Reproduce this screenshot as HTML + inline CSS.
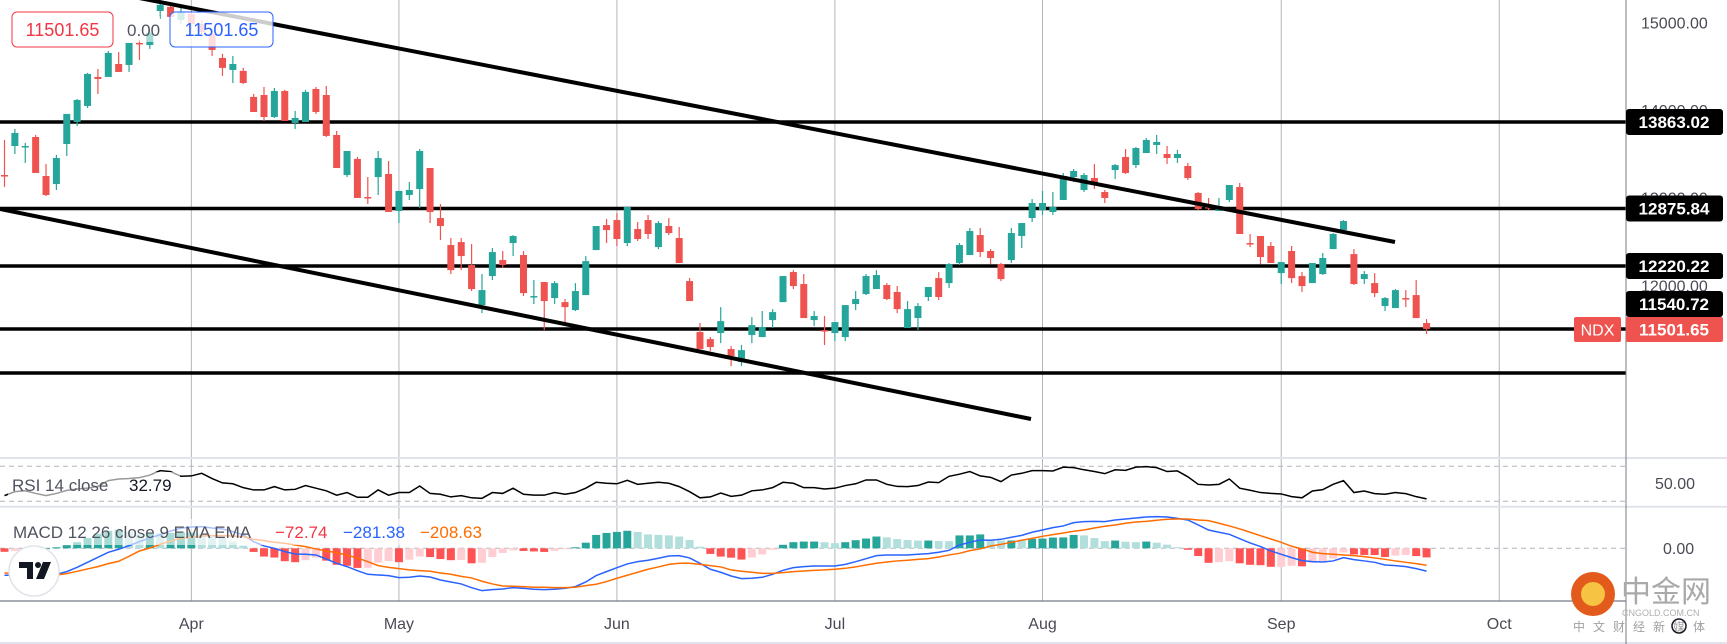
<!DOCTYPE html>
<html><head><meta charset="utf-8"><style>
html,body{margin:0;padding:0;background:#fff;}
svg{display:block;font-family:"Liberation Sans","Noto Sans CJK SC",sans-serif;}
</style></head><body>
<svg id="chart" width="1727" height="644" viewBox="0 0 1727 644" xmlns="http://www.w3.org/2000/svg">
<rect x="0" y="0" width="1727" height="644" fill="#fff"/>
<g id="grid"></g>
<g id="levels"></g>
<g id="candles"></g>
<g id="trend"></g>
<g id="rsi"></g>
<g id="macd"></g>
<g id="axes"></g>
</svg>
<script>
const months = ["Apr","May","Jun","Jul","Aug","Sep","Oct"];
const monthIdx = [18,38,59,80,100,123,144];
const opens = [13258,13589,13578,13692,13247,13155,13612,13863,14046,14377,14377,14525,14514,14765,14742,15130,15176,15028,15096,14982,14868,14594,14457,14446,14149,14171,13920,14217,13852,13863,14240,14171,13715,13258,13441,13007,13235,13270,12847,13030,13098,13338,12767,12459,12493,12231,11774,12105,12288,12482,12345,11866,12037,11854,11808,11717,11888,12402,12687,12744,12482,12642,12744,12436,12676,12539,12048,11466,11386,11455,11272,11124,11432,11409,11603,11808,12151,12014,11603,11489,11455,11409,11786,11900,11957,12003,11923,11512,11626,11866,12082,12025,12254,12345,12573,12391,12242,12288,12562,12767,12859,12836,12973,13235,13087,13224,13064,13315,13464,13372,13509,13601,13498,13452,13361,13053,12893,12847,12973,13121,12482,12562,12448,12139,12391,12105,12025,12128,12413,12630,12356,12071,12025,11763,11740,11854,11888,11569];
const closes = [13247,13738,13589,13281,13030,13452,13955,14114,14411,14354,14651,14434,14765,14754,14879,15199,15062,15119,14982,14891,14685,14480,14525,14308,13977,13920,14217,13875,13909,14206,13977,13704,13338,13532,12996,12996,13452,12836,13076,13087,13532,12836,12676,12173,12333,11957,11945,12379,12231,12562,11911,11877,11820,12025,11751,11934,12276,12676,12630,12528,12893,12528,12585,12710,12596,12254,11820,11272,11295,11591,11192,11260,11546,11523,11694,12105,11991,11626,11649,11480,11580,11774,11843,12105,12117,11843,11728,11728,11763,11980,11866,12242,12459,12619,12379,12311,12071,12596,12710,12939,12939,12893,13247,13304,13258,13155,12996,13372,13281,13566,13658,13635,13452,13498,13224,12870,12881,12904,13144,12585,12471,12322,12254,12265,12082,11991,12254,12311,12585,12733,12014,12128,11911,11854,11945,11843,11626,11501.65];
const highs = [13658,13783,13624,13715,13384,13487,13955,14126,14423,14468,14674,14662,14765,14799,14914,15256,15199,15165,15130,15028,14914,14640,14617,14480,14183,14263,14251,14229,13989,14229,14263,14274,13761,13532,13464,13235,13532,13418,13076,13178,13555,13338,12927,12539,12539,12471,12128,12425,12391,12573,12391,12060,12037,12048,11843,12025,12333,12676,12756,12824,12893,12722,12802,12733,12767,12665,12082,11569,11409,11751,11306,11318,11637,11706,11728,12105,12173,12128,11706,11649,11580,11774,11934,12128,12173,12025,11991,11820,11797,11980,12151,12254,12482,12653,12653,12413,12254,12653,12710,12984,13076,13064,13281,13327,13281,13384,13087,13384,13555,13578,13681,13715,13589,13544,13395,13064,12996,12996,13144,13167,12585,12562,12493,12265,12448,12151,12254,12368,12596,12744,12413,12162,12139,11866,11957,11945,12060,11614];
const lows = [13121,13498,13395,13281,13018,13087,13475,13818,14023,14183,14377,14434,14434,14571,14697,15039,15062,14982,14914,14868,14617,14388,14308,14297,13977,13875,13909,13875,13783,13863,13955,13692,13338,13235,12996,12927,13030,12836,12710,12973,12881,12710,12516,12128,12173,11934,11683,12060,12197,12333,11877,11786,11489,11786,11569,11706,11888,12402,12482,12448,12448,12505,12528,12413,12573,12254,11820,11272,11249,11340,11078,11078,11340,11409,11512,11808,11957,11626,11534,11318,11363,11363,11717,11888,11957,11831,11683,11512,11489,11820,11831,11968,12231,12345,12322,12242,12048,12254,12425,12722,12802,12802,12973,13178,13064,13098,12939,13212,13270,13338,13509,13498,13384,13395,13201,12859,12859,12847,12950,12585,12436,12242,12254,12014,12025,11923,12025,12117,12413,12630,12003,12014,11866,11706,11740,11751,11626,11443];
const rsiVals = [36.5,41,42,39,36.5,39,42.5,44,45,47,53.6,55.5,56,57,60,65,64,58.6,59,62,56,51,50,45.6,43,43,46.8,43,43.7,48,45,42,37,40,34.6,34.6,43,37,40,40,47.5,39,38,35,36.5,34,33.4,40,39,45,38,37,37,40,38,40,45,51.7,50.6,50,54,49.4,50.6,51.7,50.6,46.8,41,34,35,39.5,35.7,37,42,43,45.6,51.7,50.6,45.6,45.6,44,45,48,50,54.4,54.4,49.4,47,46.8,48,52,51.3,58.6,61,64,59,57.4,52.5,60,62,65,65,64.7,69,68.5,66,64,61.6,66,65.4,69,69.6,68.5,64,64.7,58,49.4,48.7,49.4,55.5,45,42.6,40,39,38.4,35.3,34,41.8,43.3,49.4,53.6,40,41.8,38.8,38,40,38.8,35.3,32.79];
const macdVals = [-333,-333,-321,-325,-329,-321,-288,-235,-173,-111,-49,-12,33,82,128,169,214,247,263,267,251,239,206,165,82,29,0,-41,-70,-74,-82,-132,-185,-226,-276,-321,-329,-337,-362,-358,-342,-354,-391,-416,-440,-486,-523,-510,-502,-486,-494,-506,-510,-506,-494,-473,-416,-337,-288,-239,-193,-165,-148,-123,-95,-91,-119,-185,-259,-296,-342,-374,-370,-358,-321,-272,-239,-226,-218,-218,-218,-198,-165,-128,-91,-82,-82,-82,-74,-66,-49,-25,41,74,103,99,111,136,160,198,226,255,276,317,329,333,329,350,362,374,387,391,387,370,350,288,226,198,173,119,66,21,-33,-74,-115,-152,-165,-169,-156,-115,-140,-156,-173,-206,-214,-226,-251,-281.38];
const signalVals = [-305,-313,-321,-325,-329,-329,-313,-284,-255,-226,-189,-160,-99,-33,4,49,91,123,136,152,156,156,152,144,111,95,74,62,41,21,-8,-33,-53,-86,-119,-165,-214,-235,-251,-267,-276,-284,-305,-321,-346,-366,-407,-440,-465,-469,-473,-481,-481,-486,-486,-481,-461,-444,-411,-370,-333,-296,-259,-230,-198,-185,-185,-198,-214,-230,-267,-284,-296,-309,-309,-300,-288,-280,-272,-267,-259,-247,-230,-206,-185,-169,-156,-148,-136,-128,-107,-82,-62,-29,-8,29,49,74,99,123,148,169,189,210,226,251,272,288,309,325,333,346,358,362,362,350,342,309,276,239,198,156,115,74,25,-8,-49,-66,-74,-82,-91,-103,-119,-136,-156,-173,-189,-208.63];
const levelVals = [13863.02,12875.84,12220.22,11501.65,10999.03];
const priceTicks = [15000,14000,13000,12000];

const NS="http://www.w3.org/2000/svg";
function el(tag,attrs,parent,text){const e=document.createElementNS(NS,tag);for(const k in attrs)e.setAttribute(k,attrs[k]);if(text!==undefined)e.textContent=text;parent.appendChild(e);return e;}
const xOf=i=>4.5+10.38*i;
const yP=p=>122+(13863-p)*0.08764;
const yR=v=>466.3+(70-v)*0.875;
const yM=v=>548.3-v*0.081;
const yH=v=>548.3-v*0.125;
const AX=1626;

const grid=document.getElementById('grid');
monthIdx.forEach((mi,k)=>{
  const l=el('line',{x1:xOf(mi),x2:xOf(mi),y1:0,y2:601,stroke:'#b2b5be','stroke-width':1},grid);
  
  
});

const lev=document.getElementById('levels');
levelVals.forEach(v=>{
  const l=el('line',{x1:0,x2:AX,y1:yP(v),y2:yP(v),stroke:'#000','stroke-width':3.5},lev);
  
  
});

const cg=document.getElementById('candles');
for(let i=0;i<opens.length;i++){
  const up=closes[i]>=opens[i];const col=up?'#26a69a':'#ef5350';const x=xOf(i);
  const g=el('g',{},cg);
  
  
  el('line',{x1:x,x2:x,y1:yP(highs[i]),y2:yP(lows[i]),stroke:col,'stroke-width':1.2},g);
  const t=Math.min(yP(opens[i]),yP(closes[i]));const h=Math.max(1.5,Math.abs(yP(opens[i])-yP(closes[i])));
  el('rect',{x:x-3.5,y:t,width:7,height:h,fill:col},g);
}

const tg=document.getElementById('trend');
const t1=el('line',{x1:100,y1:-9.6,x2:1395,y2:242,stroke:'#000','stroke-width':4},tg);


const t2=el('line',{x1:0,y1:209,x2:1031,y2:419,stroke:'#000','stroke-width':4},tg);



const ax=document.getElementById('axes');
[[458,2],[506.7,2],[643,2]].forEach(([y,w])=>{const l=el('line',{x1:0,x2:1727,y1:y,y2:y,stroke:'#e0e3eb','stroke-width':w},ax);});

const rg=document.getElementById('rsi');
[70,30].forEach(v=>{const l=el('line',{x1:0,x2:AX,y1:yR(v),y2:yR(v),stroke:'#b2b5be','stroke-dasharray':'5,4','stroke-width':1},rg);});
const rpath=el('polyline',{points:rsiVals.map((v,i)=>xOf(i)+','+yR(v)).join(' '),fill:'none',stroke:'#000','stroke-width':1.5},rg);



const mg=document.getElementById('macd');
const zl=el('line',{x1:0,x2:AX,y1:yM(0),y2:yM(0),stroke:'#b2b5be','stroke-dasharray':'5,4','stroke-width':1},mg);


let prev=0;
for(let i=0;i<macdVals.length;i++){
  const h=macdVals[i]-signalVals[i];
  let col;
  if(h>=0)col=h>=prev?'#26a69a':'#b2dfdb';else col=h<prev?'#ff5252':'#ffcdd2';
  prev=h;
  const y1=yH(0),y2=yH(h);
  const r=el('rect',{x:xOf(i)-4,y:Math.min(y1,y2),width:8,height:Math.max(0.8,Math.abs(y2-y1)),fill:col},mg);
  
  
}
const ml=el('polyline',{points:macdVals.map((v,i)=>xOf(i)+','+yM(v)).join(' '),fill:'none',stroke:'#2962ff','stroke-width':1.5},mg);


const sl=el('polyline',{points:signalVals.map((v,i)=>xOf(i)+','+yM(v)).join(' '),fill:'none',stroke:'#ff6d00','stroke-width':1.5},mg);



const ab=el('line',{x1:AX,x2:AX,y1:0,y2:644,stroke:'#787b86','stroke-width':1},ax);


const bl=el('line',{x1:0,x2:AX,y1:601,y2:601,stroke:'#787b86','stroke-width':1.2},ax);



months.forEach((m,k)=>{
  const t=el('text',{x:xOf(monthIdx[k]),y:629,'text-anchor':'middle','font-size':16,fill:'#4a4a55'},ax,m);
  
  
});
priceTicks.forEach(p=>{
  const t=el('text',{x:1641,y:yP(p)+6,'font-size':16,fill:'#4a4a55'},ax,p.toFixed(2));
  
  
});
const levelLbl=[13863.02,12875.84,12220.22,11540.72];
levelLbl.forEach(v=>{
  const yc=(v===11540.72)?304:yP(v);
  const g=el('g',{},ax);
  
  
  el('rect',{x:AX,y:yc-13,width:97,height:26,rx:3,fill:'#000'},g);
  el('text',{x:1674,y:yc+6,'text-anchor':'middle','font-size':17,'font-weight':'bold',fill:'#fff'},g,v.toFixed(2));
});
const ng=el('g',{},ax);


el('rect',{x:1574,y:317,width:47,height:25,rx:2,fill:'#ef5350'},ng);
el('text',{x:1597.5,y:335.5,'text-anchor':'middle','font-size':16,fill:'#fff'},ng,'NDX');
el('rect',{x:AX,y:317,width:97,height:25,rx:2,fill:'#ef5350'},ng);
el('text',{x:1674,y:335.5,'text-anchor':'middle','font-size':17,'font-weight':'bold',fill:'#fff'},ng,'11501.65');
const r50=el('text',{x:1655,y:489,'font-size':16,fill:'#4a4a55'},ax,'50.00');


const m0=el('text',{x:1663,y:554,'font-size':16,fill:'#4a4a55'},ax,'0.00');


</script>

<svg style="position:absolute;left:0;top:0" width="1727" height="644" viewBox="0 0 1727 644" xmlns="http://www.w3.org/2000/svg" font-family="Liberation Sans, Noto Sans CJK SC, sans-serif">
  <g>
    <rect x="12" y="12" width="101" height="35" rx="5" fill="rgba(255,255,255,0.8)" stroke="#f23645" stroke-width="1"/>
    <text x="62.5" y="36" text-anchor="middle" font-size="18" fill="#f23645">11501.65</text>
  </g>
  <rect x="124" y="16" width="36" height="26" fill="rgba(255,255,255,0.6)"/>
  <text x="127" y="36" font-size="17" fill="#50535e">0.00</text>
  <g>
    <rect x="170" y="12" width="103" height="35" rx="5" fill="rgba(255,255,255,0.8)" stroke="#2962ff" stroke-width="1"/>
    <text x="221.5" y="36" text-anchor="middle" font-size="18" fill="#2962ff">11501.65</text>
  </g>
  <g>
    <rect x="8" y="472" width="172" height="26" fill="rgba(255,255,255,0.6)"/>
    <text x="12" y="491" font-size="17" fill="#50535e">RSI 14 close</text>
    <text x="129" y="491" font-size="17" fill="#131722">32.79</text>
  </g>
  <g>
    <rect x="8" y="519" width="484" height="26" fill="rgba(255,255,255,0.6)"/>
    <text x="13" y="538" font-size="17" fill="#50535e">MACD 12 26 close 9 EMA EMA</text>
    <text x="275" y="538" font-size="17" fill="#f23645">−72.74</text>
    <text x="343" y="538" font-size="17" fill="#2962ff">−281.38</text>
    <text x="420" y="538" font-size="17" fill="#ff6d00">−208.63</text>
  </g>
  <g>
    <circle cx="34" cy="571" r="25" fill="#fff" stroke="#e0e3eb" stroke-width="1.5"/>
    <rect x="19" y="562" width="14" height="6" fill="#131722"/>
    <rect x="27" y="562" width="6" height="17" fill="#131722"/>
    <circle cx="38" cy="565" r="3" fill="#131722"/>
    <polygon points="43,562 51,562 44,579 36,579" fill="#131722"/>
  </g>
  <g>
    <circle cx="1593" cy="594" r="22" fill="#e25a1c"/>
    <circle cx="1593" cy="594" r="12" fill="#f6c342"/>
    <text x="1621" y="602" font-size="30" fill="#a9a9a9" font-family="Noto Sans CJK SC, sans-serif">中金网</text>
    <text x="1622" y="616" font-size="9" fill="#b0b0b0">CNGOLD.COM.CN</text>
    <text x="1573" y="631" font-size="12" fill="#a0a0a0" letter-spacing="8" font-family="Noto Sans CJK SC, sans-serif">中文财经新媒体</text>
  </g>
  <g>
    <circle cx="1679" cy="626" r="7" fill="none" stroke="#131722" stroke-width="1.5"/>
  </g>
</svg>
</body></html>
